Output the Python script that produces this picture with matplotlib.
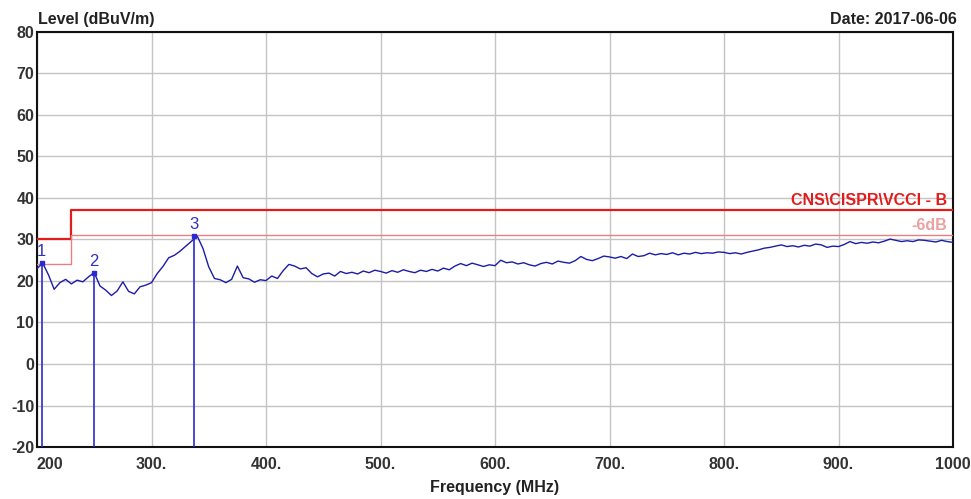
import matplotlib.pyplot as plt
import numpy as np

plt.rcParams['font.family'] = ['Liberation Sans', 'DejaVu Sans']
plt.rcParams['axes.unicode_minus'] = False

# measured trace, 5 MHz steps from 200 to 1000 MHz
freq = np.arange(200, 1001, 5)
level = [
    23.0, 24.3, 21.5, 18.0, 19.6, 20.4, 19.3, 20.2, 19.8, 21.0,   # 200-245
    22.0, 18.8, 17.8, 16.5, 17.6, 19.8, 17.5, 16.9, 18.6, 19.0,   # 250-295
    19.6, 21.8, 23.5, 25.6, 26.2, 27.2, 28.4, 29.6, 30.8, 27.8,   # 300-345
    23.4, 20.6, 20.3, 19.6, 20.4, 23.6, 20.8, 20.5, 19.7, 20.3,   # 350-395
    20.1, 21.2, 20.6, 22.5, 24.0, 23.6, 22.9, 23.2, 21.8, 21.0,   # 400-445
    21.7, 21.9, 21.2, 22.3, 21.8, 22.1, 21.7, 22.4, 22.0, 22.6,   # 450-495
    22.3, 21.9, 22.5, 22.1, 22.7, 22.3, 22.0, 22.6, 22.3, 22.8,   # 500-545
    22.4, 23.1, 22.7, 23.6, 24.2, 23.7, 24.3, 23.9, 23.5, 23.9,   # 550-595
    23.7, 25.0, 24.4, 24.6, 24.1, 24.4, 23.9, 23.6, 24.2, 24.5,   # 600-645
    24.1, 24.8, 24.5, 24.3, 24.9, 25.9, 25.2, 24.9, 25.4, 26.0,   # 650-695
    25.8, 25.5, 25.9, 25.4, 26.5, 25.9, 26.1, 26.7, 26.3, 26.6,   # 700-745
    26.4, 26.8, 26.3, 26.7, 26.5, 26.9, 26.6, 26.8, 26.7, 27.0,   # 750-795
    26.9, 26.6, 26.8, 26.5, 26.9, 27.2, 27.5, 27.9, 28.1, 28.4,   # 800-845
    28.7, 28.3, 28.5, 28.2, 28.6, 28.4, 28.9, 28.7, 28.1, 28.4,   # 850-895
    28.3, 28.8, 29.5, 29.0, 29.3, 29.1, 29.4, 29.2, 29.6, 30.1,   # 900-945
    29.8, 29.5, 29.7, 29.5, 29.9, 29.8, 29.6, 29.4, 29.8, 29.5,   # 950-995
    29.3,                                                         # 1000
]

limit_freq = [200, 230, 230, 1000]
limit_level = [30, 30, 37, 37]
margin_level = [24, 24, 31, 31]

marker_ids = ['1', '2', '3']
marker_freq = [204, 250, 337]
marker_level = [24.3, 22.0, 30.8]

xticks = [200, 300, 400, 500, 600, 700, 800, 900, 1000]
xticklabels = ['200', '300.', '400.', '500.', '600.', '700.', '800.', '900.', '1000']
yticks = [-20, -10, 0, 10, 20, 30, 40, 50, 60, 70, 80]

fig = plt.figure(figsize=(9.71, 4.99), dpi=100)
ax = fig.add_axes([0.0381, 0.1042, 0.9434, 0.8317])

ax.plot(limit_freq, limit_level, color='#e31b1b', lw=1.6, zorder=3)
ax.plot(limit_freq, margin_level, color='#e88080', lw=1.0, zorder=3)
ax.plot(freq, level, color='#1c1ca8', lw=1.0, zorder=4)

for mid, mf, ml in zip(marker_ids, marker_freq, marker_level):
    ax.plot([mf, mf], [-20, ml], color='#2a2ad0', lw=1.2, zorder=5)
    ax.plot(mf, ml, marker='s', ms=2.5, color='#2a2ad0', zorder=5)
    ax.text(mf, ml + 1.0, mid, color='#3030c0', fontsize=12,
            ha='center', va='bottom', zorder=6)

ax.text(995, 37.6, 'CNS\\CISPR\\VCCI - B', color='#e31b1b', fontsize=11.5,
        fontweight='bold', ha='right', va='bottom')
ax.text(995, 31.6, '-6dB', color='#eda0a0', fontsize=11.5,
        fontweight='bold', ha='right', va='bottom')

ax.set_xlim(200, 1000)
ax.set_ylim(-20, 80)
ax.set_xticks(xticks)
ax.set_xticklabels(xticklabels)
ax.set_yticks(yticks)
ax.tick_params(length=0, pad=2, labelsize=11.5, labelcolor='#333333')
ax.tick_params(axis='x', pad=7)
for lab in ax.get_xticklabels() + ax.get_yticklabels():
    lab.set_fontweight('bold')
ax.get_xticklabels()[0].set_ha('left')
ax.grid(True, color='#c4c4c4', lw=1.0)
for s in ax.spines.values():
    s.set_linewidth(1.5)
    s.set_color('#111111')

fig.text(0.039, 0.945, 'Level (dBuV/m)', fontsize=11.5, fontweight='bold',
         color='#222222', ha='left', va='bottom')
fig.text(0.985, 0.945, 'Date: 2017-06-06', fontsize=11.5, fontweight='bold',
         color='#222222', ha='right', va='bottom')
ax.set_xlabel('Frequency (MHz)', fontsize=11.5, fontweight='bold',
              color='#222222', labelpad=6)

fig.savefig('out.png', dpi=100)
